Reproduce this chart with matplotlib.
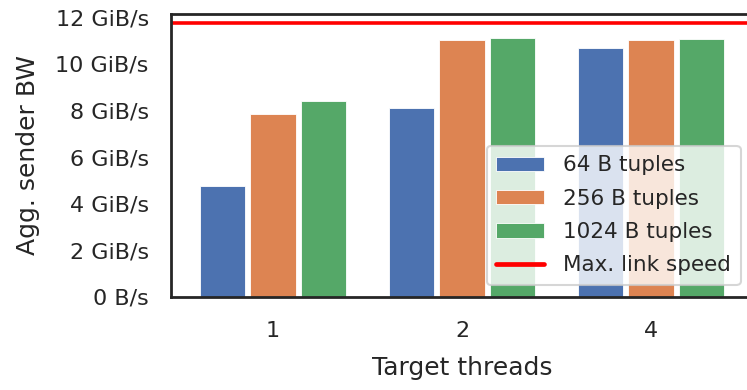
import matplotlib
matplotlib.use("Agg")
import matplotlib.pyplot as plt
import numpy as np
from matplotlib.ticker import FuncFormatter

# aggregate sender bandwidth per target thread count, GiB/s
threads = ['1', '2', '4']
series = ['64 B tuples', '256 B tuples', '1024 B tuples']
bw_64 = [4.77, 8.09, 10.69]
bw_256 = [7.84, 11.03, 11.03]
bw_1024 = [8.39, 11.11, 11.07]
max_link = 11.76

colors = ['#4C72B0', '#DD8452', '#55A868']
text_color = '#262626'

plt.rcParams['font.family'] = ['DejaVu Sans']
plt.rcParams['text.color'] = text_color
plt.rcParams['axes.labelcolor'] = text_color
plt.rcParams['xtick.color'] = text_color
plt.rcParams['ytick.color'] = text_color

fig = plt.figure(figsize=(7.47, 3.9), dpi=100)
ax = fig.add_axes([0.229, 0.2385, 0.779, 0.7256])

x = np.arange(len(threads))
slot = 0.8 / 3
for i, (name, vals) in enumerate(zip(series, [bw_64, bw_256, bw_1024])):
    ax.bar(x - 0.4 + slot * (i + 0.5), vals, width=slot * 0.9,
           color=colors[i], edgecolor='white', linewidth=0.6, label=name)

ax.axhline(max_link, color='red', lw=2.6, solid_capstyle='round',
           label='Max. link speed')

ax.set_xlim(-0.54, 2.54)
ax.set_ylim(0, 12.13)
ax.set_xticks(x)
ax.set_xticklabels(threads)
ax.set_yticks(np.arange(0, 13, 2))


def fmt(v, pos):
    if v == 0:
        return '0 B/s'
    return '%d GiB/s' % v


ax.yaxis.set_major_formatter(FuncFormatter(fmt))
ax.tick_params(axis='both', length=0, labelsize=16)
ax.tick_params(axis='y', pad=16)
ax.tick_params(axis='x', pad=17)

for s in ax.spines.values():
    s.set_color(text_color)
    s.set_linewidth(2)

ax.set_xlabel('Target threads', fontsize=18, labelpad=11)
ax.set_ylabel('Agg. sender BW', fontsize=18, labelpad=11)

handles, labels = ax.get_legend_handles_labels()
order = [1, 2, 3, 0]
leg = ax.legend([handles[i] for i in order], [labels[i] for i in order],
                loc='lower right', bbox_to_anchor=(0.979, 0.042), borderaxespad=0,
                fontsize=15.5, frameon=True, framealpha=0.8, edgecolor='#cccccc',
                handlelength=2.2, handleheight=0.65, handletextpad=0.9,
                labelspacing=0.62, borderpad=0.45)
leg.get_frame().set_linewidth(1.5)
leg.legend_handles[3].set_linewidth(3.4)

fig.savefig('out.png', dpi=100)
